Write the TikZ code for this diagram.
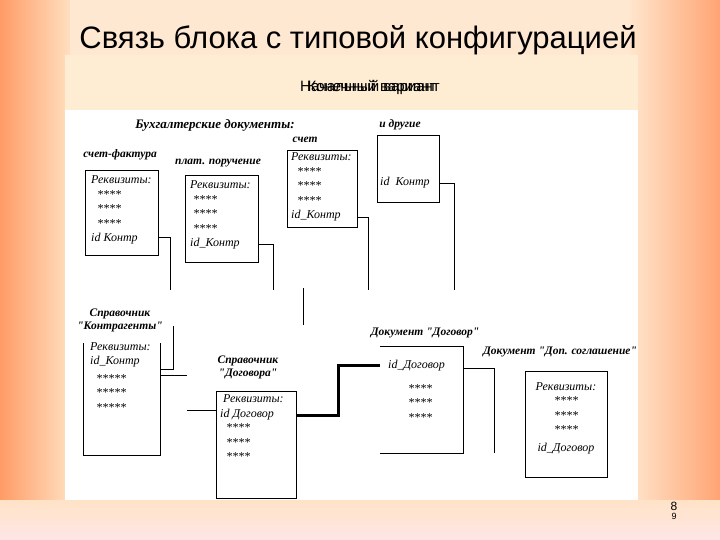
\documentclass[tikz,border=0pt]{standalone}
\usepackage{fontspec}
\setmainfont{Liberation Serif}
\newfontfamily\arial{Liberation Sans}
\newcommand{\qq}{\textquotedbl}
\begin{document}
\begin{tikzpicture}[x=1pt,y=-1pt,
  lbl/.style={font=\fontsize{11.5}{13}\selectfont\itshape\bfseries, inner sep=0pt},
  txt/.style={font=\fontsize{12}{14.5}\selectfont\itshape, inner sep=0pt, anchor=west, align=left},
  bx/.style={draw, line width=0.8pt},
  con/.style={line width=0.8pt}]
\useasboundingbox (0,0) rectangle (720,540);
\shade[left color=orange!70!red!60, right color=orange!25!white] (0,0) rectangle (70,540);
\shade[left color=orange!20!white, right color=orange!70!red!55] (630,0) rectangle (720,540);
\fill[orange!18!white] (70,0) rectangle (630,540);
\shade[top color=orange!22!white, bottom color=pink!40!white] (0,500) rectangle (720,540);
\fill[yellow!15!orange!15!white] (65,55) rectangle (638,110);
\fill[white] (65,110) rectangle (638,500);
\node[font=\arial\fontsize{31}{34}\selectfont] (title) at (358,40) {Связь блока с типовой конфигурацией};
\node[font=\arial\fontsize{15}{17}\selectfont] (sub1) at (370,87) {Начальный вариант};
\node[font=\arial\fontsize{15}{17}\selectfont] (sub2) at (372,87) {Конечный вариант};
\node[lbl, font=\fontsize{13}{15}\selectfont\itshape\bfseries] (hdr) at (215,125) {Бухгалтерские документы:};
% box1
\node[lbl] (l1) at (120,155) {счет-фактура};
\draw[bx] (85,170) rectangle (158,255);
\node[txt] (t1) at (91,210) {Реквизиты:\\\ \ ****\\\ \ ****\\\ \ ****\\id\ Контр};
\coordinate (b1) at (158,237); \coordinate (e1) at (170,290);
\draw[con] (b1) -| (e1);
% box2
\node[lbl] (l2) at (218,163) {плат. поручение};
\draw[bx] (185,175) rectangle (258,262);
\node[txt] (t2) at (190,215) {Реквизиты:\\\ ****\\\ ****\\\ ****\\id\_Контр};
\coordinate (b2) at (258,244); \coordinate (e2) at (273,290);
\draw[con] (b2) -| (e2);
% box3
\node[lbl] (l3) at (305,140) {счет};
\draw[bx] (287,150) rectangle (357,227);
\node[txt] (t3) at (291,187) {Реквизиты:\\\ \ ****\\\ \ ****\\\ \ ****\\id\_Контр};
\coordinate (b3) at (357,217); \coordinate (e3) at (368,290);
\draw[con] (b3) -| (e3);
% box4
\node[lbl] (l4) at (400,125) {и другие};
\draw[bx] (377,135) rectangle (439,202);
\node[txt] (t4) at (380,183) {id\ \ Контр};
\coordinate (b4) at (439,183); \coordinate (e4) at (454,290);
\draw[con] (b4) -| (e4);
\coordinate (v1) at (303,288); \coordinate (v2) at (303,325);
\draw[con] (v1) -- (v2);
% box5
\node[lbl, align=center] (l5) at (120,320) {Справочник\\\qq Контрагенты\qq};
\draw[bx] (83,343) |- (160,455) -- (160,343);
\node[txt] (t5) at (90,377) {Реквизиты:\\id\_Контр\\[3pt]\ \ *****\\\ \ *****\\\ \ *****};
\coordinate (b5) at (160,369); \coordinate (e5) at (173,326);
\draw[con] (b5) -| (e5);
\coordinate (b5b) at (160,375); \coordinate (e5b) at (187,375);
\draw[con] (b5b) -- (e5b);
\coordinate (f6) at (187,410);
% box6
\node[lbl, align=center] (l6) at (248,367) {Справочник\\\qq Договора\qq};
\draw[bx] (216,391) rectangle (296,498);
\node[txt] (t6) at (220,428) {\ Реквизиты:\\id\ Договор\\\ \ ****\\\ \ ****\\\ \ ****};
\coordinate (b6) at (216,410);
\draw[con] (f6) -- (b6);
\coordinate (b6t) at (296,415); \coordinate (m1) at (338,415); \coordinate (m2) at (338,365); \coordinate (b7l) at (380,365);
\draw[line width=3pt] (b6t) -- (m1) -- (m2) -- (b7l);
% box7
\node[lbl] (l7) at (425,333) {Документ \qq Договор\qq};
\draw[bx] (380,346) -| (463,453) -- (380,453);
\node[txt] (t7) at (388,366) {id\_Договор};
\node[txt, align=center, anchor=center] (t7b) at (420,403) {****\\****\\****};
\coordinate (b7) at (464,368); \coordinate (e7) at (494,453);
\draw[con] (b7) -| (e7);
% box8
\node[lbl] (l8) at (560,352) {Документ \qq Доп. соглашение\qq};
\draw[bx] (525,371) rectangle (607,477);
\node[txt, align=center, anchor=center] (t8) at (566,418) {Реквизиты:\\****\\****\\****\\[3pt]id\_Договор};
\node[font=\arial\fontsize{12}{14}\selectfont] (pg8) at (674,506) {8};
\node[font=\arial\fontsize{9}{10}\selectfont] (pg9) at (674,516) {9};
\end{tikzpicture}
\end{document}
